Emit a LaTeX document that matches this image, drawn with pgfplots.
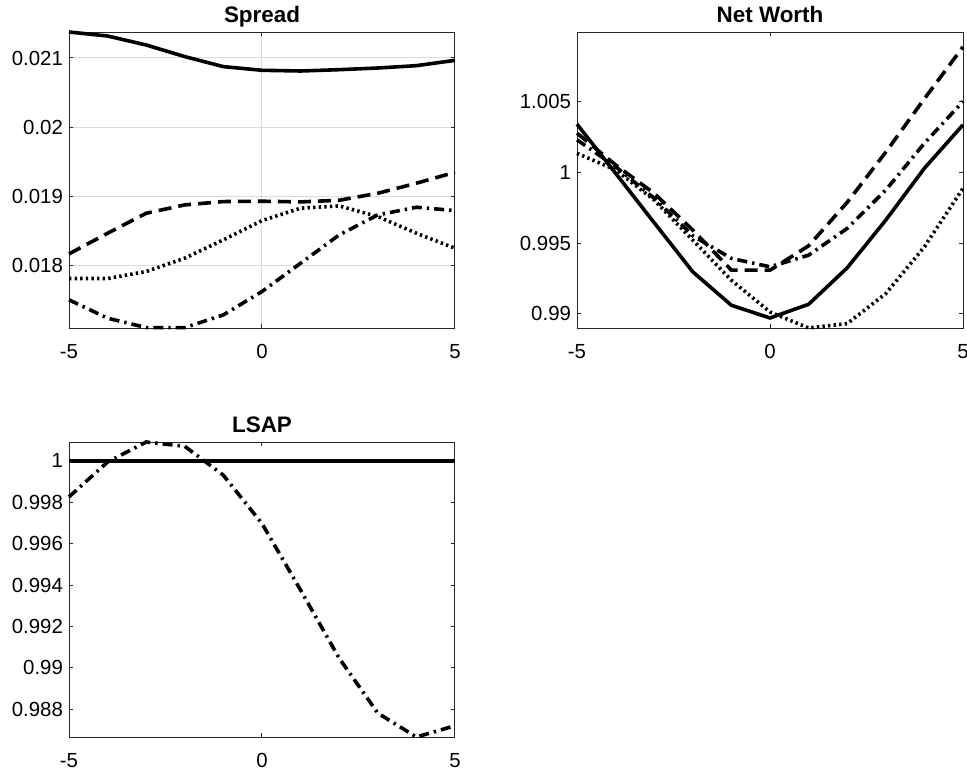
\documentclass[border=0pt]{standalone}
\usepackage{pgfplots}
\pgfplotsset{compat=1.18}
\usepackage{fontspec}
\setmainfont{Liberation Sans}
\definecolor{axgray}{gray}{0.15}
\definecolor{gridgray}{gray}{0.86}
\pgfplotsset{
  every axis/.append style={
    scale only axis, width=193pt, height=148pt,
    xmin=-5, xmax=5, xtick={-5,0,5}, xticklabels={-5,0,5},
    scaled y ticks=false, scaled x ticks=false,
    tick align=inside, major tick length=2pt,
    axis line style={axgray, line width=0.5pt},
    every tick/.style={axgray, line width=0.5pt},
    tick label style={font=\fontsize{10.2}{11}\selectfont, text=black},
    xticklabel style={yshift=-4.5pt},
    yticklabel style={xshift=0.5pt},
    title style={font=\bfseries\fontsize{11.2}{12}\selectfont, at={(0.5,1)}, anchor=base, yshift=-1pt},
    clip=false,
    /pgf/number format/assume math mode=true,
  },
  sol/.style={black, line width=1.8pt, no marks},
  dsh/.style={black, line width=1.8pt, no marks, dash pattern=on 6.5pt off 3.5pt},
  dtt/.style={black, line width=1.8pt, no marks, dash pattern=on 1.2pt off 1.6pt},
  dsd/.style={black, line width=1.8pt, no marks, dash pattern=on 5pt off 2.5pt on 1.2pt off 2.5pt},
}
\begin{document}
\begin{tikzpicture}
\path[use as bounding box] (0,0) rectangle (483.5pt,-385.5pt);
% Spread
\begin{axis}[at={(34.5pt,-16pt)}, anchor=north west,
  title={Spread}, ymin=0.017094, ymax=0.021376,
  ytick={0.018,0.019,0.02,0.021}, yticklabels={0.018,0.019,0.02,0.021},
  grid=major, grid style={gridgray, line width=0.5pt}]
\addplot[sol] coordinates {(-5,0.021376) (-4,0.021318) (-3,0.021188) (-2,0.02102) (-1,0.020875) (0,0.020822) (1,0.020812) (2,0.020831) (3,0.020855) (4,0.020889) (5,0.020966)};
\addplot[dsh] coordinates {(-5,0.018166) (-4,0.018465) (-3,0.018754) (-2,0.018875) (-1,0.018923) (0,0.018928) (1,0.018918) (2,0.018942) (3,0.019043) (4,0.019188) (5,0.019347)};
\addplot[dtt] coordinates {(-5,0.01781) (-4,0.01781) (-3,0.017911) (-2,0.018104) (-1,0.018369) (0,0.018648) (1,0.018827) (2,0.01886) (3,0.018706) (4,0.018465) (5,0.018248)};
\addplot[dsd] coordinates {(-5,0.017501) (-4,0.017236) (-3,0.0171) (-2,0.0171) (-1,0.017284) (0,0.017622) (1,0.018031) (2,0.018441) (3,0.01873) (4,0.018841) (5,0.018793)};
\end{axis}
% Net Worth
\begin{axis}[at={(288.5pt,-16pt)}, anchor=north west,
  title={Net Worth}, ymin=0.98901, ymax=1.0099,
  ytick={0.99,0.995,1,1.005}, yticklabels={0.99,0.995,1,1.005}]
\addplot[sol] coordinates {(-5,1.003396) (-4,0.999929) (-3,0.996439) (-2,0.992972) (-1,0.990613) (0,0.989717) (1,0.990684) (2,0.993255) (3,0.996627) (4,1.000283) (5,1.003349)};
\addplot[dsh] coordinates {(-5,1.00276) (-4,1.00052) (-3,0.99851) (-2,0.99592) (-1,0.99309) (0,0.99309) (1,0.99481) (2,0.99788) (3,1.00142) (4,1.00519) (5,1.00885)};
\addplot[dtt] coordinates {(-5,1.00134) (-4,1.00017) (-3,0.99804) (-2,0.99521) (-1,0.99238) (0,0.99014) (1,0.98901) (2,0.98932) (3,0.99144) (4,0.99474) (5,0.99887)};
\addplot[dsd] coordinates {(-5,1.00229) (-4,1.00040) (-3,0.99816) (-2,0.99552) (-1,0.99392) (0,0.99333) (1,0.99415) (2,0.99604) (3,0.99875) (4,1.00205) (5,1.0050)};
\end{axis}
% LSAP
\begin{axis}[at={(34.5pt,-221pt)}, anchor=north west, height=147.5pt,
  title={LSAP}, ymin=0.98665, ymax=1.000917,
  ytick={0.988,0.99,0.992,0.994,0.996,0.998,1},
  yticklabels={0.988,0.99,0.992,0.994,0.996,0.998,1}]
\addplot[dsd] coordinates {(-5,0.998262) (-4,0.99995) (-3,1.000917) (-2,1.000708) (-1,0.999308) (0,0.996975) (1,0.993757) (2,0.990459) (3,0.987807) (4,0.98665) (5,0.987196)};
\addplot[dsh] coordinates {(-5,1) (-4,1) (-3,1) (-2,1) (-1,1) (0,1) (1,1) (2,1) (3,1) (4,1) (5,1)};
\addplot[dtt] coordinates {(-5,1) (-4,1) (-3,1) (-2,1) (-1,1) (0,1) (1,1) (2,1) (3,1) (4,1) (5,1)};
\addplot[sol] coordinates {(-5,1) (-4,1) (-3,1) (-2,1) (-1,1) (0,1) (1,1) (2,1) (3,1) (4,1) (5,1)};
\end{axis}
\end{tikzpicture}
\end{document}
